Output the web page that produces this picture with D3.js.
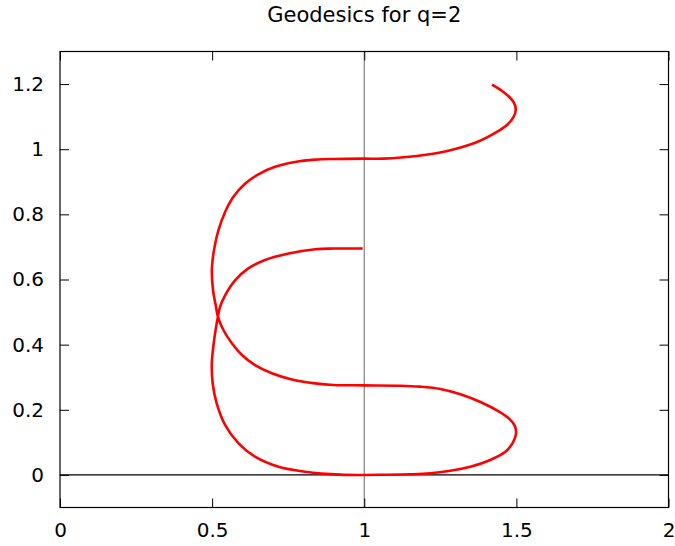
<!DOCTYPE html>
<html><head><meta charset="utf-8">
<script src="https://cdn.jsdelivr.net/npm/d3@7"></script>
<style>body{margin:0;background:#fff}svg{display:block}text{font-family:"DejaVu Sans",sans-serif;fill:#000}</style>
</head><body><svg id="c" width="675" height="546"></svg>
<script>
const title = "Geodesics for q=2";
const xTicks = [0, 0.5, 1, 1.5, 2];
const xTickLabels = ["0", "0.5", "1", "1.5", "2"];
const yTicks = [0, 0.2, 0.4, 0.6, 0.8, 1, 1.2];
const yTickLabels = ["0", "0.2", "0.4", "0.6", "0.8", "1", "1.2"];
const xDomain = [0, 2];
const yDomain = [-0.1, 1.3];
const geodesicX = [0.995,0.899,0.839,0.751,0.674,0.619,0.576,0.543,0.526,0.519,0.508,0.499,0.502,0.515,0.543,0.587,0.641,0.718,0.806,0.921,0.998,
  1.060,1.151,1.217,1.283,1.349,1.414,1.464,1.489,1.499,1.494,1.476,1.446,1.382,1.316,1.250,1.184,1.118,0.998,
  0.899,0.839,0.762,0.696,0.641,0.598,0.565,0.537,0.519,0.512,0.503,0.499,0.501,0.508,0.521,0.543,0.570,0.609,0.652,0.707,0.773,0.839,0.899,0.998,
  1.063,1.173,1.283,1.371,1.436,1.470,1.491,1.498,1.492,1.476,1.454,1.420];
const geodesicY = [0.695,0.695,0.693,0.680,0.660,0.634,0.598,0.552,0.516,0.486,0.424,0.343,0.280,0.220,0.153,0.097,0.056,0.025,0.010,0.001,0.000,
  0.0005,0.002,0.005,0.013,0.025,0.046,0.071,0.100,0.128,0.152,0.173,0.193,0.224,0.248,0.264,0.271,0.274,0.275,
  0.276,0.281,0.293,0.312,0.337,0.368,0.404,0.445,0.486,0.520,0.567,0.625,0.655,0.700,0.752,0.808,0.854,0.895,0.923,0.946,0.961,0.968,0.970,0.971,
  0.971,0.979,0.997,1.022,1.053,1.075,1.099,1.122,1.143,1.161,1.178,1.198];

const svg = d3.select("#c");
const L = 60, R = 668.5, T = 51.5, B = 507.5;
const x = d3.scaleLinear().domain(xDomain).range([L, R]);
const y = d3.scaleLinear().domain(yDomain).range([B, T]);

svg.append("line").attr("x1", x(1)).attr("x2", x(1)).attr("y1", T).attr("y2", B)
  .attr("stroke", "#808080").attr("stroke-width", 1.2);
svg.append("line").attr("x1", L).attr("x2", R).attr("y1", y(0)).attr("y2", y(0))
  .attr("stroke", "#000").attr("stroke-width", 1.2);

const fmtX = (d, i) => xTickLabels[i];
const fmtY = (d, i) => yTickLabels[i];
const gBottom = svg.append("g").attr("transform", `translate(0,${B})`)
  .call(d3.axisBottom(x).tickValues(xTicks).tickFormat(fmtX).tickSizeInner(-9).tickSizeOuter(0).tickPadding(15));
const gTop = svg.append("g").attr("transform", `translate(0,${T})`)
  .call(d3.axisTop(x).tickValues(xTicks).tickFormat("").tickSizeInner(-9).tickSizeOuter(0));
const gLeft = svg.append("g").attr("transform", `translate(${L},0)`)
  .call(d3.axisLeft(y).tickValues(yTicks).tickFormat(fmtY).tickSizeInner(-9).tickSizeOuter(0).tickPadding(16));
const gRight = svg.append("g").attr("transform", `translate(${R},0)`)
  .call(d3.axisRight(y).tickValues(yTicks).tickFormat("").tickSizeInner(-9).tickSizeOuter(0));
[gBottom, gTop, gLeft, gRight].forEach(g => {
  g.select(".domain").remove();
  g.selectAll("line").attr("stroke", "#000").attr("stroke-width", 1);
  g.selectAll("text").attr("font-size", 20).attr("font-family", "DejaVu Sans, sans-serif").attr("fill", "#000");
});
gBottom.selectAll("text").attr("dy", "0.71em");

svg.append("rect").attr("x", L).attr("y", T).attr("width", R - L).attr("height", B - T)
  .attr("fill", "none").attr("stroke", "#000").attr("stroke-width", 1.2);

const pts = geodesicX.map((v, i) => [v, geodesicY[i]]);
svg.append("path").datum(pts)
  .attr("d", d3.line().x(d => x(d[0])).y(d => y(d[1])).curve(d3.curveCatmullRom.alpha(0.5)))
  .attr("fill", "none").attr("stroke", "#ff0000").attr("stroke-width", 2.6)
  .attr("stroke-linejoin", "round");

svg.append("text").attr("x", x(1)).attr("y", 21.5).attr("text-anchor", "middle")
  .attr("font-size", 21).text(title);
</script></body></html>
